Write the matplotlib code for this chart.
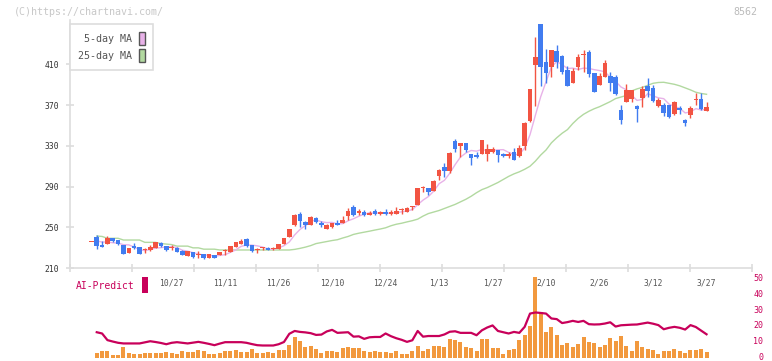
import numpy as np
import matplotlib
matplotlib.use("Agg")
import matplotlib.pyplot as plt
from matplotlib.patches import Patch, Rectangle
from matplotlib.ticker import LinearLocator, FixedLocator
from matplotlib import transforms

# daily candles (oldest -> newest)
opens = [235.2, 240.5, 232.6, 233.5, 239.2, 237.2, 232.6, 225.1, 231.6, 230.6,
         227.8, 227.6, 229.6, 234.5, 231.6, 229.3, 229.6, 226.6, 221.8, 225.7,
         222.8, 223.5, 220.2, 222.5, 222.8, 226.3, 225.7, 230.6, 233.5, 238.5,
         232.6, 228.0, 229.3, 229.6, 228.6, 229.0, 233.9, 240.5, 252.5, 263.0,
         255.6, 252.6, 259.2, 254.6, 248.6, 250.6, 253.9, 253.9, 260.7, 270.0,
         263.7, 265.5, 262.5, 266.4, 262.8, 265.4, 262.8, 263.5, 267.0, 265.4,
         269.7, 272.0, 288.3, 288.6, 285.7, 300.4, 309.3, 305.4, 334.8, 330.3,
         332.9, 321.7, 321.0, 322.4, 321.7, 324.3, 326.0, 322.0, 320.4, 324.0,
         320.4, 330.3, 354.1, 409.5, 449.8, 412.8, 407.8, 423.3, 418.4, 404.6,
         391.8, 407.5, 419.0, 422.3, 401.6, 390.2, 398.0, 398.7, 397.7, 365.3,
         373.5, 376.1, 369.2, 376.8, 388.9, 386.9, 369.5, 370.2, 370.2, 361.7,
         367.2, 355.1, 360.4, 374.8, 376.1, 364.3]
highs = [235.2, 242.4, 236.5, 241.0, 239.2, 237.5, 232.6, 229.6, 234.9, 230.6,
         229.3, 232.6, 235.5, 235.5, 232.0, 232.6, 230.6, 227.6, 226.6, 225.7,
         226.6, 223.8, 224.0, 222.8, 225.7, 228.9, 231.6, 235.5, 238.2, 239.8,
         232.6, 229.6, 231.0, 230.6, 230.6, 234.0, 239.2, 248.3, 263.0, 264.7,
         256.0, 261.2, 260.5, 256.0, 253.0, 254.6, 256.9, 260.7, 269.0, 271.7,
         267.5, 266.8, 265.7, 268.0, 265.7, 267.7, 266.7, 270.3, 269.2, 270.0,
         271.3, 288.6, 290.6, 288.6, 296.2, 307.6, 313.2, 324.3, 336.8, 332.9,
         332.9, 321.7, 324.0, 335.8, 331.9, 329.3, 326.0, 323.3, 323.6, 327.6,
         330.5, 353.8, 385.9, 437.0, 449.8, 425.2, 424.3, 429.2, 419.4, 408.8,
         406.3, 420.0, 424.3, 424.3, 401.6, 401.6, 414.4, 402.6, 399.6, 370.2,
         391.1, 384.9, 370.2, 388.5, 396.7, 389.8, 376.8, 371.8, 370.2, 374.1,
         368.9, 356.5, 369.2, 382.0, 382.0, 373.1]
lows = [235.2, 229.0, 230.6, 233.5, 235.3, 233.0, 223.5, 225.0, 228.3, 224.0,
        225.1, 227.0, 229.6, 230.3, 226.5, 227.3, 225.7, 222.5, 221.8, 220.2,
        219.8, 218.5, 220.0, 219.5, 222.5, 222.8, 225.7, 230.3, 233.5, 231.0,
        226.0, 224.7, 227.5, 227.3, 227.3, 228.6, 233.9, 240.5, 251.5, 250.5,
        248.0, 252.0, 254.0, 250.5, 248.3, 249.4, 251.9, 253.9, 257.5, 260.7,
        262.0, 260.8, 261.7, 261.7, 261.8, 262.5, 262.5, 262.8, 263.3, 264.7,
        266.7, 272.0, 285.0, 281.7, 285.7, 296.8, 299.8, 303.7, 324.3, 319.4,
        324.3, 311.5, 318.4, 322.4, 315.2, 323.3, 314.5, 319.4, 318.4, 316.5,
        319.4, 326.3, 353.2, 369.5, 389.2, 392.0, 398.0, 406.3, 400.3, 389.2,
        391.8, 404.6, 403.0, 398.0, 383.3, 390.2, 398.0, 384.3, 380.0, 351.8,
        373.5, 373.5, 353.8, 368.6, 378.4, 372.8, 368.2, 359.7, 357.7, 360.4,
        361.4, 349.9, 357.7, 370.2, 365.6, 364.3]
closes = [235.2, 232.0, 230.6, 239.6, 236.6, 233.6, 224.1, 229.6, 229.3, 224.1,
          228.0, 230.6, 235.5, 231.6, 227.6, 229.6, 225.7, 222.8, 226.6, 220.8,
          223.2, 219.8, 223.5, 219.8, 225.7, 226.6, 231.6, 235.5, 237.0, 231.6,
          226.7, 228.3, 229.6, 227.7, 229.0, 233.9, 239.2, 248.3, 262.1, 256.2,
          252.6, 260.2, 255.6, 252.6, 251.9, 253.9, 252.3, 257.5, 266.4, 261.8,
          266.4, 262.4, 264.5, 263.5, 264.7, 262.8, 264.7, 266.4, 267.5, 268.6,
          270.0, 288.6, 288.6, 285.0, 295.5, 306.3, 305.7, 323.0, 327.3, 332.9,
          326.0, 318.4, 319.4, 335.8, 327.0, 327.0, 321.4, 320.4, 322.0, 316.5,
          327.9, 352.5, 385.9, 417.4, 407.8, 402.0, 424.3, 412.8, 402.3, 389.2,
          403.6, 417.4, 419.4, 401.0, 383.3, 398.7, 411.5, 392.1, 381.3, 355.8,
          384.9, 384.9, 366.6, 385.9, 384.3, 374.1, 375.1, 362.7, 358.7, 372.8,
          365.3, 352.5, 367.2, 375.1, 366.6, 368.2]

# moving averages as drawn (first candle has none)
ma5 = [None, 236.5, 235.5, 235.5, 234.8, 234.5, 232.9, 232.7, 230.6, 228.1,
       227.0, 228.3, 229.5, 230.0, 230.7, 231.0, 230.0, 227.5, 226.5, 225.1,
       223.8, 222.6, 222.8, 221.4, 222.4, 223.1, 225.4, 227.8, 231.3, 232.5,
       232.5, 231.8, 230.6, 228.8, 228.3, 229.7, 231.9, 235.6, 242.5, 247.9,
       251.7, 255.9, 257.3, 255.4, 254.6, 254.8, 253.3, 253.6, 256.4, 258.4,
       260.9, 262.9, 264.3, 263.7, 264.3, 263.6, 264.0, 264.4, 265.2, 266.0,
       267.4, 272.2, 276.7, 280.2, 285.5, 292.8, 296.2, 303.1, 311.6, 319.0,
       323.0, 325.5, 324.8, 326.5, 325.3, 325.5, 326.1, 326.3, 323.6, 321.5,
       321.6, 327.9, 341.0, 360.0, 378.3, 393.1, 407.5, 412.9, 409.8, 406.1,
       406.4, 405.1, 406.4, 406.1, 404.9, 404.0, 402.8, 397.3, 393.4, 387.9,
       385.1, 379.8, 374.7, 375.6, 381.3, 379.2, 377.2, 376.4, 371.0, 368.7,
       366.9, 362.4, 363.3, 366.6, 365.3, 365.9]
ma25 = [None, 241.4, 241.0, 239.2, 239.2, 239.2, 237.5, 237.5, 237.5, 237.5,
        235.2, 235.2, 235.2, 234.0, 233.5, 233.0, 231.5, 231.5, 231.5, 229.8,
        229.8, 228.5, 228.5, 228.5, 227.7, 227.7, 227.7, 227.7, 227.7, 227.7,
        227.7, 227.7, 227.7, 227.7, 227.7, 227.7, 227.7, 227.7, 228.3, 229.3,
        230.5, 232.0, 234.0, 235.0, 236.0, 237.0, 237.8, 239.5, 241.0, 243.0,
        244.2, 245.2, 246.2, 247.3, 248.3, 249.5, 251.5, 253.0, 254.0, 255.3,
        256.5, 258.0, 261.0, 263.5, 265.0, 266.5, 268.5, 270.5, 272.5, 275.0,
        277.5, 280.5, 284.0, 287.0, 289.0, 291.5, 294.0, 297.0, 300.0, 302.5,
        304.5, 307.0, 310.0, 315.0, 321.0, 326.0, 333.0, 338.0, 342.4, 346.0,
        352.0, 357.0, 361.0, 364.0, 366.5, 368.5, 371.0, 373.5, 376.5, 378.0,
        379.5, 384.0, 386.0, 387.5, 389.5, 391.5, 392.3, 392.5, 391.5, 390.5,
        389.0, 387.0, 385.0, 382.7, 381.5, 380.7]

# lower panel, from the second candle on
volume = [2.7, 4.0, 4.0, 1.3, 1.5, 6.5, 2.7, 2.1, 2.1, 2.7, 2.7, 2.7, 2.7, 3.4,
          2.7, 2.1, 4.0, 3.4, 3.4, 4.6, 4.0, 2.1, 2.1, 2.7, 4.0, 4.0, 4.6, 3.4,
          3.4, 5.3, 2.7, 2.7, 3.4, 2.7, 4.6, 4.6, 7.8, 12.9, 10.3, 6.5, 7.2, 5.3,
          2.7, 4.0, 4.0, 3.4, 5.9, 6.5, 5.9, 5.9, 4.0, 3.4, 4.0, 3.4, 3.4, 2.7,
          4.0, 2.1, 2.1, 4.0, 7.2, 4.0, 5.3, 7.2, 7.2, 6.5, 11.6, 11.0, 9.7, 6.5,
          5.9, 4.0, 11.6, 11.6, 5.9, 5.9, 2.1, 4.6, 5.3, 11.0, 14.1, 19.8, 50.8,
          28.7, 16.0, 19.2, 14.1, 7.8, 9.1, 6.5, 8.4, 12.9, 9.7, 9.1, 6.5, 7.8,
          12.2, 10.3, 13.5, 7.2, 4.0, 10.3, 6.5, 5.3, 4.6, 2.1, 4.0, 4.0, 5.3,
          4.0, 2.7, 4.6, 4.6, 5.3, 3.4]
ai_predict = [16.0, 15.2, 11.0, 10.1, 9.3, 8.9, 8.9, 8.9, 8.9, 9.6, 10.3, 9.8,
              9.2, 8.4, 9.3, 9.7, 9.3, 8.9, 9.4, 9.9, 9.3, 8.6, 7.8, 8.8, 9.7,
              9.7, 9.7, 9.7, 9.3, 8.5, 7.8, 7.6, 7.6, 7.6, 8.4, 9.8, 15.0, 16.8,
              16.2, 15.9, 15.4, 14.3, 14.5, 16.5, 17.5, 15.6, 15.8, 16.0, 13.2,
              13.4, 11.8, 12.8, 13.0, 13.0, 15.2, 13.5, 12.2, 11.2, 9.9, 10.9,
              16.8, 13.2, 13.6, 13.6, 13.6, 14.6, 16.3, 16.6, 15.6, 15.6, 15.6,
              14.1, 17.2, 19.0, 20.3, 16.8, 16.0, 15.2, 16.2, 15.6, 19.4, 27.8,
              28.5, 28.2, 27.8, 24.7, 24.3, 21.8, 22.4, 23.2, 22.5, 23.2, 21.1,
              20.9, 21.0, 21.5, 22.3, 19.6, 20.4, 20.6, 20.8, 20.9, 21.5, 22.1,
              21.4, 20.5, 17.9, 18.8, 19.4, 18.8, 17.7, 20.5, 19.3, 17.0, 14.7]

date_labels = ["10/27", "11/11", "11/26", "12/10", "12/24", "1/13", "1/27",
               "2/10", "2/26", "3/12", "3/27"]
first_label, label_step = 15, 10

price_ticks = [210, 250, 290, 330, 370, 410]
ai_ticks = [0, 10, 20, 30, 40, 50]

UP, DOWN = "#f25442", "#417cf0"
MA5_C, MA25_C = "#e8b2e8", "#b2d9a0"
AI_C = "#c8005a"
VOL_C = "#f2993e"
AXIS_C = "#dddddd"
MONO = "DejaVu Sans Mono"

W, H = 772, 361
fig = plt.figure(figsize=(W / 100, H / 100), dpi=100)

def fx(px):
    return px / W

def fy(py):
    return 1 - py / H

x = np.arange(len(closes))
xb = x[1:]
xlim = (-4.0, 123.5)

# ---- price panel
ax = fig.add_axes([fx(70), fy(268), fx(752) - fx(70), fy(20) - fy(268)])
ax.set_xlim(*xlim)
ax.set_ylim(210, 453.7)

o = np.array(opens)
c = np.array(closes)
cols = [UP if cc >= oo else DOWN for oo, cc in zip(o, c)]
body = np.maximum(np.abs(c - o), 0.9)
ax.vlines(x, lows, highs, colors=cols, linewidth=1, zorder=3)
ax.bar(x, body, bottom=np.minimum(o, c), width=0.86, color=cols, linewidth=0, zorder=4)

ma5_arr = np.array([np.nan if v is None else v for v in ma5])
ma25_arr = np.array([np.nan if v is None else v for v in ma25])
ax.plot(x, ma25_arr, color=MA25_C, linewidth=1.0, zorder=2)
ax.plot(x, ma5_arr, color=MA5_C, linewidth=1.0, zorder=2)

for s in ["top", "right"]:
    ax.spines[s].set_visible(False)
for s in ["left", "bottom"]:
    ax.spines[s].set_color(AXIS_C)
    ax.spines[s].set_linewidth(1.2)
ax.xaxis.set_major_locator(LinearLocator(12))
ax.yaxis.set_major_locator(FixedLocator(price_ticks))
ax.tick_params(axis="x", direction="inout", length=6, width=1.2, color=AXIS_C,
               labelbottom=False)
ax.tick_params(axis="y", direction="inout", length=6, width=1.2, color=AXIS_C,
               labelsize=5.8, labelcolor="#333333", pad=5)
for t in ax.get_yticklabels():
    t.set_fontfamily(MONO)

handles = [Patch(facecolor=MA5_C, edgecolor="#555555", linewidth=1),
           Patch(facecolor=MA25_C, edgecolor="#555555", linewidth=1)]
leg = ax.legend(handles, [" 5-day MA", "25-day MA"], loc="upper left",
                bbox_to_anchor=(fx(70), fy(24)), bbox_transform=fig.transFigure,
                markerfirst=False, fancybox=False, edgecolor=AXIS_C,
                framealpha=1, prop={"family": MONO, "size": 7.2},
                labelcolor="#555555", handlelength=0.6, handleheight=1.6,
                handletextpad=0.7, labelspacing=0.45, borderpad=0.8,
                borderaxespad=0)
leg.get_frame().set_linewidth(1.2)

# ---- lower panel
axb = fig.add_axes([fx(70), fy(357.5), fx(752) - fx(70), fy(276) - fy(357.5)])
axb.patch.set_visible(False)
axb.set_xlim(*xlim)
axb.set_ylim(0, 51.6)
axb.bar(xb, volume, width=0.75, color=VOL_C, linewidth=0, zorder=2)
axb.plot(xb, ai_predict, color=AI_C, linewidth=1.6, zorder=3)
for s in axb.spines.values():
    s.set_visible(False)
axb.set_xticks([])
axb.yaxis.tick_right()
axb.yaxis.set_major_locator(FixedLocator(ai_ticks))
axb.tick_params(axis="y", length=0, pad=8, labelsize=6, labelcolor=AI_C)
for t in axb.get_yticklabels():
    t.set_fontfamily(MONO)
    t.set_horizontalalignment("right")
    t.set_verticalalignment("center")

# date labels under the price panel
tr = transforms.blended_transform_factory(ax.transData, fig.transFigure)
for k, lab in enumerate(date_labels):
    fig.text(first_label + k * label_step, fy(283.5), lab, transform=tr,
             ha="center", va="center", fontsize=5.8, family=MONO,
             color="#555555")

fig.text(fx(76), fy(286), "AI-Predict", ha="left", va="center", fontsize=7,
         family=MONO, color=AI_C)
fig.patches.append(Rectangle((fx(142), fy(293)), fx(6), fy(277) - fy(293),
                             transform=fig.transFigure, facecolor=AI_C,
                             edgecolor="none"))

fig.text(fx(14), fy(12), "(C)https://chartnavi.com/", ha="left", va="center",
         fontsize=7.2, family=MONO, color="#c8c8c8")
fig.text(fx(757), fy(12), "8562", ha="right", va="center", fontsize=7.2,
         family=MONO, color="#bbbbbb")

fig.savefig("out.png", dpi=100)
